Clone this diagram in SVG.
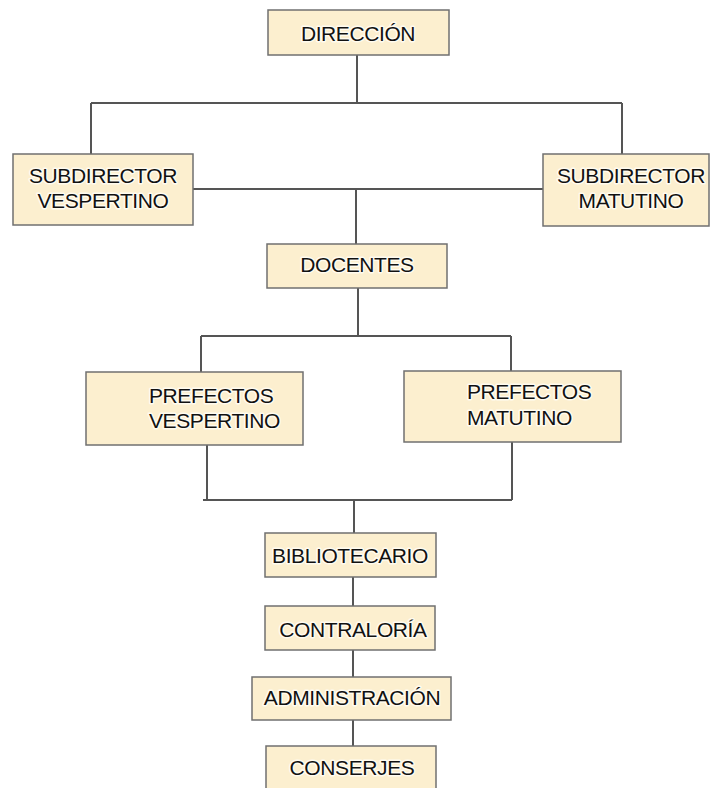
<svg xmlns="http://www.w3.org/2000/svg" width="711" height="788" viewBox="0 0 711 788">
<style>
.box{fill:#fcefcf;stroke:#707070;stroke-width:1.5}
.lbl{font-family:"Liberation Sans",Arial,sans-serif;font-size:21px;letter-spacing:-0.4px;fill:#111;stroke:#fffbef;stroke-width:3;stroke-linejoin:round;paint-order:stroke}
.c{text-anchor:middle}
.conn{fill:none;stroke:#555;stroke-width:2}
</style>
<rect width="711" height="788" fill="#fff"/>
<g id="connectors" class="conn">
<path d="M357 55V103M91 103H622M91 103V154M622 103V154"/>
<path d="M193 189H543M356 189V244"/>
<path d="M358 288V336M201 336H511M201 336V372M511 336V371"/>
<path d="M207 445V500M512 442V500M203 500H512M354 500V533"/>
<path d="M353 577V606M353 650V677M353 720V746"/>
</g>
<g id="direccion"><rect class="box" x="268" y="10" width="181" height="45"/><text class="lbl c" x="358" y="41">DIRECCIÓN</text></g>
<g id="subdirector-vespertino"><rect class="box" x="13" y="154" width="180" height="71"/><text class="lbl c" x="103" y="183">SUBDIRECTOR</text><text class="lbl c" x="103" y="208">VESPERTINO</text></g>
<g id="subdirector-matutino"><rect class="box" x="543" y="154" width="166" height="72"/><text class="lbl c" x="631" y="183">SUBDIRECTOR</text><text class="lbl c" x="631" y="208">MATUTINO</text></g>
<g id="docentes"><rect class="box" x="267" y="244" width="180" height="44"/><text class="lbl c" x="357" y="272">DOCENTES</text></g>
<g id="prefectos-vespertino"><rect class="box" x="86" y="372" width="217" height="73"/><text class="lbl" x="149" y="403">PREFECTOS</text><text class="lbl" x="149" y="428">VESPERTINO</text></g>
<g id="prefectos-matutino"><rect class="box" x="404" y="371" width="217" height="71"/><text class="lbl" x="467" y="399">PREFECTOS</text><text class="lbl" x="467" y="425">MATUTINO</text></g>
<g id="bibliotecario"><rect class="box" x="265" y="533" width="171" height="44"/><text class="lbl c" x="350" y="563">BIBLIOTECARIO</text></g>
<g id="contraloria"><rect class="box" x="265" y="606" width="170" height="44"/><text class="lbl c" x="353" y="637">CONTRALORÍA</text></g>
<g id="administracion"><rect class="box" x="252" y="677" width="199" height="43"/><text class="lbl c" x="352" y="705">ADMINISTRACIÓN</text></g>
<g id="conserjes"><rect class="box" x="266" y="746" width="170" height="50"/><text class="lbl c" x="352" y="775">CONSERJES</text></g>
</svg>
